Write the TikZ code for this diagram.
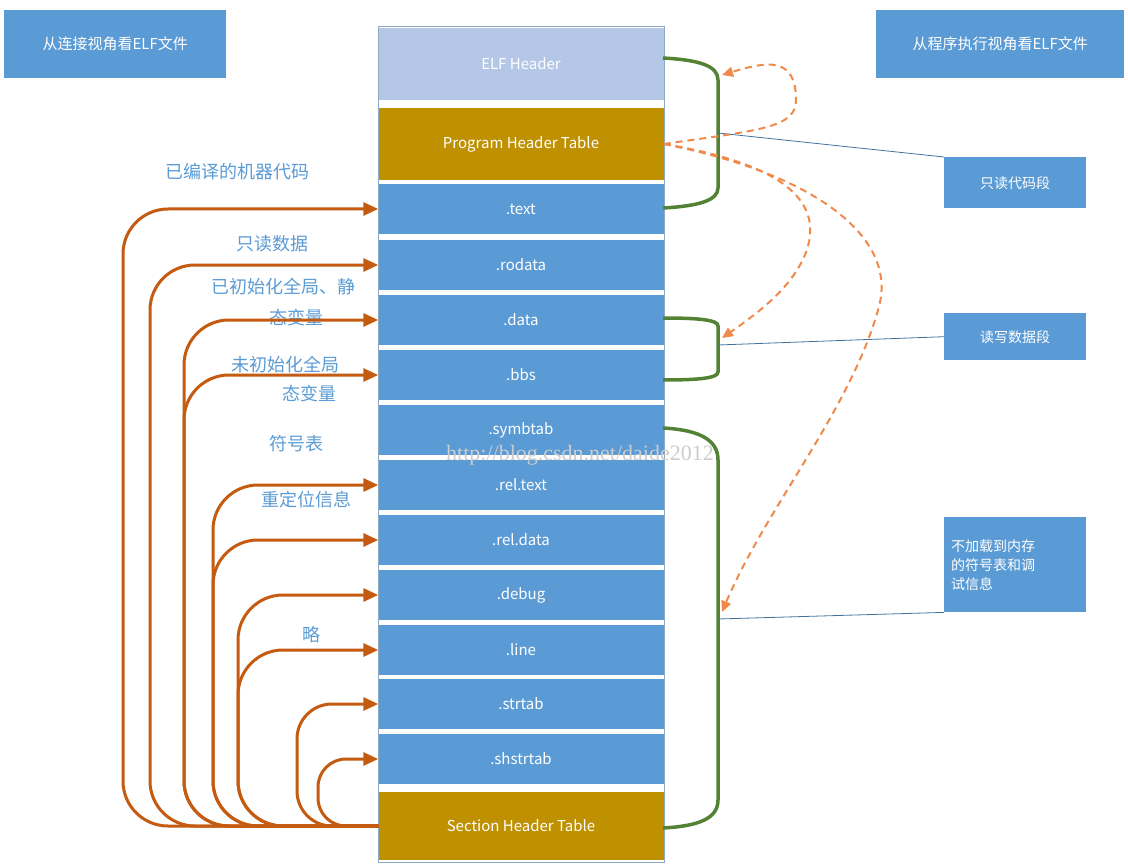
\documentclass[tikz,border=0pt]{standalone}
\usepackage{fontspec}
\setmainfont{Noto Sans CJK SC}
\usetikzlibrary{arrows.meta,calc}
\definecolor{secblue}{HTML}{5B9BD5}
\definecolor{hdrblue}{HTML}{B4C7E7}
\definecolor{gold}{HTML}{BF9000}
\definecolor{rust}{HTML}{C55A11}
\definecolor{dashor}{HTML}{F08A4B}
\definecolor{brgreen}{HTML}{548235}
\definecolor{linkblue}{HTML}{41719C}
\begin{document}
\begin{tikzpicture}[x=1pt,y=-1pt]
 \tikzset{sec/.style={fill=secblue,text=white,minimum width=285pt,minimum height=50pt,font=\fontsize{15}{17}\selectfont,inner sep=0pt},
  hdr/.style={sec,minimum height=72pt},
  note/.style={fill=secblue,text=white,font=\fontsize{14}{19}\selectfont,align=left,inner sep=6pt,anchor=north west},
  lbl/.style={text=secblue,font=\fontsize{18}{20}\selectfont},
  feed/.style={draw=rust,line width=3pt,-{Triangle[length=15pt,width=13pt]}},
  brace/.style={draw=brgreen,line width=3.5pt},
  load/.style={draw=dashor,line width=2pt,dash pattern=on 7pt off 5pt,-{Triangle[length=11pt,width=10pt]}},
  link/.style={draw=linkblue,line width=0.8pt}}
 \useasboundingbox (0,0) rectangle (1128,864);
 \draw[linkblue!60,line width=0.8pt] (378,26) rectangle (664,862);

 % the sections of the file
 \node (elf) at (521,64) [hdr,fill=hdrblue] {ELF Header};
 \node (pht) at (521,144) [hdr,fill=gold] {Program Header Table};
 \foreach \nm/\yy/\txt in {text/209/.text, rodata/265/.rodata, data/320/.data, bbs/375/.bbs,
   symbtab/430/.symbtab, reltext/485/.rel.text, reldata/540/.rel.data, debug/595/.debug,
   line/650/.line, strtab/704/.strtab, shstrtab/759/.shstrtab}
   \node (\nm) at (521,\yy) [sec] {\txt};
 \node (sht) at (521,826) [hdr,minimum height=68pt,fill=gold] {Section Header Table};

 \node at (580,455) [text=black!20,font=\fontspec{Liberation Serif}\fontsize{22}{24}\selectfont] {http://blog.csdn.net/daide2012};

 % two views
 \node (link) at (4,10) [note,minimum width=222pt,minimum height=68pt,align=center,font=\fontsize{15}{17}\selectfont] {从连接视角看ELF文件};
 \node (exec) at (876,10) [note,minimum width=248pt,minimum height=68pt,align=center,font=\fontsize{15}{17}\selectfont] {从程序执行视角看ELF文件};
 \node (ro) at (944,157) [note,minimum width=142pt,minimum height=51pt] {只读代码段};
 \node (rw) at (944,313) [note,minimum width=142pt,minimum height=47pt] {读写数据段};
 \node (nl) at (944,517) [note,minimum width=142pt,minimum height=95pt,text width=128pt] {不加载到内存\\的符号表和调\\试信息};

 \node at (237,172) [lbl] {已编译的机器代码};
 \node at (272,244) [lbl] {只读数据};
 \node at (283,287) [lbl] {已初始化全局、静};
 \node at (296,318) [lbl] {态变量};
 \node at (285,365) [lbl] {未初始化全局};
 \node at (309,394) [lbl] {态变量};
 \node at (296,444) [lbl] {符号表};
 \node at (306,500) [lbl] {重定位信息};
 \node at (311,635) [lbl] {略};

 % section header table points at every section
 \foreach \nm/\xx/\rr in {text/123/45, rodata/150/45, data/184/45, bbs/184/45, reltext/213/45,
   reldata/213/45, debug/238/45, line/238/45, strtab/297/35, shstrtab/318/28}
   \draw[feed,rounded corners=\rr pt] (sht.west) -- (\xx,826) -- (\xx,0 |- \nm.west) -- (\nm.west);

 % segments
 \coordinate (b1) at (718,133);
 \coordinate (b2) at (718,345);
 \coordinate (b3) at (718,619);
 \draw[brace] (663,58) .. controls (700,60) and (718,66) .. (718,80) -- (718,188) .. controls (718,200) and (700,206) .. (663,208);
 \draw[brace] (663,318) .. controls (700,318) and (718,320) .. (718,326) -- (718,372) .. controls (718,378) and (700,380) .. (663,380);
 \draw[brace] (663,428) .. controls (700,430) and (718,440) .. (718,460) -- (718,800) .. controls (718,818) and (700,826) .. (663,828);
 \draw[link] (b1) -- (ro.north west);
 \draw[link] (b2) -- ($(rw.north west)!0.5!(rw.south west)$);
 \draw[link] (b3) -- (nl.south west);

 \draw[load] (pht.east) .. controls (760,130) and (796,128) .. (796,100) .. controls (796,55) and (765,62) .. (722,75);
 \draw[load] (pht.east) .. controls (790,165) and (825,205) .. (805,255) .. controls (790,290) and (755,315) .. (722,338);
 \draw[load] (pht.east) .. controls (820,175) and (900,240) .. (878,310) .. controls (850,410) and (765,510) .. (722,612);
\end{tikzpicture}
\end{document}
